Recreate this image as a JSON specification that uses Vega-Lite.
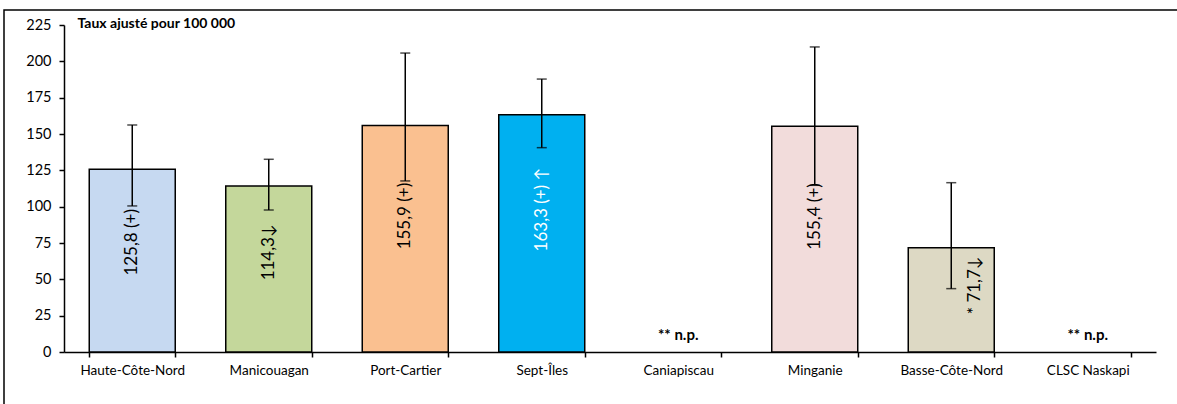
{
  "$schema": "https://vega.github.io/schema/vega-lite/v6.json",
  "autosize": "none",
  "width": 1200,
  "height": 420,
  "padding": {"left": 4, "top": 10, "right": 0, "bottom": 0},
  "background": "white",
  "config": {
    "view": {"stroke": "#000000", "strokeWidth": 1.5},
    "font": "Lato",
    "axis": {"labelFont": "Lato", "titleFont": "Lato", "labelColor": "#000000", "domainColor": "#000000", "tickColor": "#000000", "domainWidth": 1.5, "tickWidth": 1.5, "grid": false}
  },
  "data": {
    "values": [
      {"region": "Haute-Côte-Nord", "value": 125.8, "low": 100.5, "high": 156.2, "label": "125,8 (+)", "np": ""},
      {"region": "Manicouagan", "value": 114.3, "low": 97.7, "high": 132.6, "label": "114,3↓", "np": ""},
      {"region": "Port-Cartier", "value": 155.9, "low": 117.7, "high": 205.7, "label": "155,9 (+)", "np": ""},
      {"region": "Sept-Îles", "value": 163.3, "low": 140.6, "high": 187.8, "label": "163,3 (+) ↑", "np": ""},
      {"region": "Caniapiscau", "value": null, "low": null, "high": null, "label": "", "np": "** n.p."},
      {"region": "Minganie", "value": 155.4, "low": 114.7, "high": 209.9, "label": "155,4 (+)", "np": ""},
      {"region": "Basse-Côte-Nord", "value": 71.7, "low": 43.6, "high": 116.5, "label": "* 71,7↓", "np": ""},
      {"region": "CLSC Naskapi", "value": null, "low": null, "high": null, "label": "", "np": "** n.p."}
    ]
  },
  "encoding": {
    "x": {
      "field": "region", "type": "nominal",
      "sort": ["Haute-Côte-Nord", "Manicouagan", "Port-Cartier", "Sept-Îles", "Caniapiscau", "Minganie", "Basse-Côte-Nord", "CLSC Naskapi"],
      "scale": {"domain": ["Haute-Côte-Nord", "Manicouagan", "Port-Cartier", "Sept-Îles", "Caniapiscau", "Minganie", "Basse-Côte-Nord", "CLSC Naskapi"], "range": [60, 1152], "paddingInner": 0.37, "paddingOuter": 0.185},
      "axis": {"title": null, "labelAngle": 0, "labelFontSize": 13.5, "tickBand": "extent", "tickSize": 5, "labelPadding": 6, "offset": -78}
    }
  },
  "layer": [
    {
      "mark": {"type": "bar", "stroke": "#000000", "strokeWidth": 1.5},
      "encoding": {
        "y": {
          "field": "value", "type": "quantitative",
          "scale": {"domain": [0, 225], "range": [342, 15], "nice": false},
          "axis": {
            "values": [0, 25, 50, 75, 100, 125, 150, 175, 200, 225],
            "labelFontSize": 14.5, "tickSize": 5, "labelPadding": 8, "offset": -60,
            "title": "Taux ajusté pour 100 000", "titleAngle": 0, "titleAlign": "left", "titleBaseline": "middle",
            "titleX": 13, "titleY": 13, "titleFontSize": 14, "titleFontWeight": "bold", "titleColor": "#000000"
          }
        },
        "color": {
          "field": "region", "type": "nominal", "legend": null,
          "scale": {
            "domain": ["Haute-Côte-Nord", "Manicouagan", "Port-Cartier", "Sept-Îles", "Caniapiscau", "Minganie", "Basse-Côte-Nord", "CLSC Naskapi"],
            "range": ["#C6D9F1", "#C4D79B", "#FAC090", "#00B0F0", "#FFFFFF", "#F2DCDB", "#DDD9C4", "#FFFFFF"]
          }
        }
      }
    },
    {
      "mark": {"type": "rule", "color": "#000000", "strokeWidth": 1.5},
      "encoding": {
        "y": {"field": "low", "type": "quantitative"},
        "y2": {"field": "high"}
      }
    },
    {
      "mark": {"type": "tick", "color": "#000000", "size": 10, "thickness": 1.5},
      "encoding": {"y": {"field": "low", "type": "quantitative"}}
    },
    {
      "mark": {"type": "tick", "color": "#000000", "size": 10, "thickness": 1.5},
      "encoding": {"y": {"field": "high", "type": "quantitative"}}
    },
    {
      "transform": [{"filter": "datum.value != null && datum.region != 'Basse-Côte-Nord'"}, {"calculate": "datum.value * 0.6", "as": "labelPos"}],
      "mark": {"type": "text", "angle": 270, "align": "center", "baseline": "middle", "fontSize": 17, "font": "Lato"},
      "encoding": {
        "y": {"field": "labelPos", "type": "quantitative"},
        "text": {"field": "label"},
        "color": {"condition": {"test": "datum.region === 'Sept-Îles'", "value": "#FFFFFF"}, "value": "#000000"}
      }
    },
    {
      "transform": [{"filter": "datum.region == 'Basse-Côte-Nord'"}, {"calculate": "datum.value * 0.64", "as": "labelPos"}],
      "mark": {"type": "text", "angle": 270, "align": "center", "baseline": "middle", "fontSize": 17, "font": "Lato", "dy": 24, "color": "#000000"},
      "encoding": {
        "y": {"field": "labelPos", "type": "quantitative"},
        "text": {"field": "label"}
      }
    },
    {
      "transform": [{"filter": "datum.np != ''"}],
      "mark": {"type": "text", "fontSize": 15, "fontWeight": "bold", "font": "Lato", "baseline": "bottom", "dy": -9, "color": "#000000"},
      "encoding": {
        "y": {"datum": 0, "type": "quantitative"},
        "text": {"field": "np"}
      }
    }
  ]
}
